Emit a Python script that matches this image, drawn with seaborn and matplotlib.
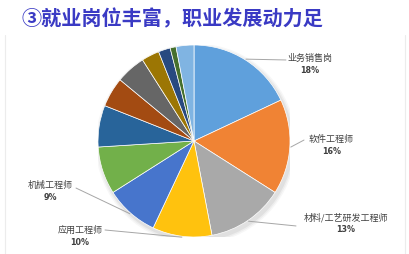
import numpy as np
import matplotlib
matplotlib.use("Agg")
import matplotlib.pyplot as plt
import seaborn as sns
from matplotlib.patches import Circle
from matplotlib.lines import Line2D

sns.set_theme(style="white")
plt.rcParams['font.family'] = ['Noto Sans CJK SC', 'DejaVu Sans']

# ---- data ----
categories = ["业务销售岗", "软件工程师", "材料/工艺研发工程师", "应用工程师", "机械工程师",
              "", "", "", "", "", "", "", ""]
values = [18, 16, 13, 10, 9, 8, 7, 5, 5, 3, 2, 1, 3]
pct_labels = ["18%", "16%", "13%", "10%", "9%", "", "", "", "", "", "", "", ""]
colors = ["#5FA0DC", "#F08334", "#A9A9A9", "#FFC20E", "#4775CC", "#72B04A",
          "#28649A", "#A34B12", "#666666", "#9C7604", "#284A80", "#46702D", "#80B4E2"]

# label layout (pie-radius units): text block centre, leader-line end
label_layout = {
    0: ((1.21, 0.81), (0.958, 0.844)),
    1: ((1.43, -0.04), (1.146, 0.01)),
    2: ((1.58, -0.85), (1.0625, -0.885)),
    3: ((-1.19, -0.98), (-0.927, -0.927)),
    4: ((-1.50, -0.52), (-1.229, -0.49)),
}

W, H = 409, 255
fig = plt.figure(figsize=(W / 100, H / 100), dpi=100)
fig.patch.set_facecolor("white")

# faint chart-area side edges
for xp in (5, 405):
    fig.add_artist(Line2D([xp / W, xp / W], [0, 1 - 36 / H], transform=fig.transFigure,
                          color="#ececec", linewidth=0.8))

cx, cy, r = 194, 142, 96
ax = fig.add_axes([(cx - r) / W, (H - cy - r) / H, 2 * r / W, 2 * r / H])

# soft shadow
for k, a in enumerate([0.05, 0.04, 0.03]):
    ax.add_patch(Circle((0.02, -0.03), 1.0 + 0.015 * (k + 1), color="black", alpha=a,
                        zorder=0, linewidth=0))

wedges, _ = ax.pie(values, colors=colors, startangle=90, counterclock=False, radius=1.0,
                   wedgeprops=dict(edgecolor="white", linewidth=0.5))
for w in wedges:
    w.set_zorder(2)
ax.set_xlim(-1, 1)
ax.set_ylim(-1, 1)
ax.set_aspect("equal")
ax.axis("off")

for i, (tpos, lend) in label_layout.items():
    w = wedges[i]
    mid = np.deg2rad((w.theta1 + w.theta2) / 2)
    ex, ey = 1.01 * np.cos(mid), 1.01 * np.sin(mid)
    ax.plot([ex, lend[0]], [ey, lend[1]], color="#a6a6a6", linewidth=0.7, clip_on=False, zorder=3)
    ax.text(tpos[0], tpos[1] + 0.062, categories[i], ha="center", va="center", fontsize=6.5,
            color="#404040", clip_on=False)
    ax.text(tpos[0], tpos[1] - 0.062, pct_labels[i], ha="center", va="center", fontsize=5.8,
            color="#404040", fontweight="bold", clip_on=False, family=["DejaVu Sans"])

fig.text(22 / W, 1 - 19 / H, "③就业岗位丰富，职业发展动力足", ha="left", va="center",
         fontsize=14.5, fontweight="bold", color="#3A3AC4")

fig.savefig("out.png", dpi=100)
